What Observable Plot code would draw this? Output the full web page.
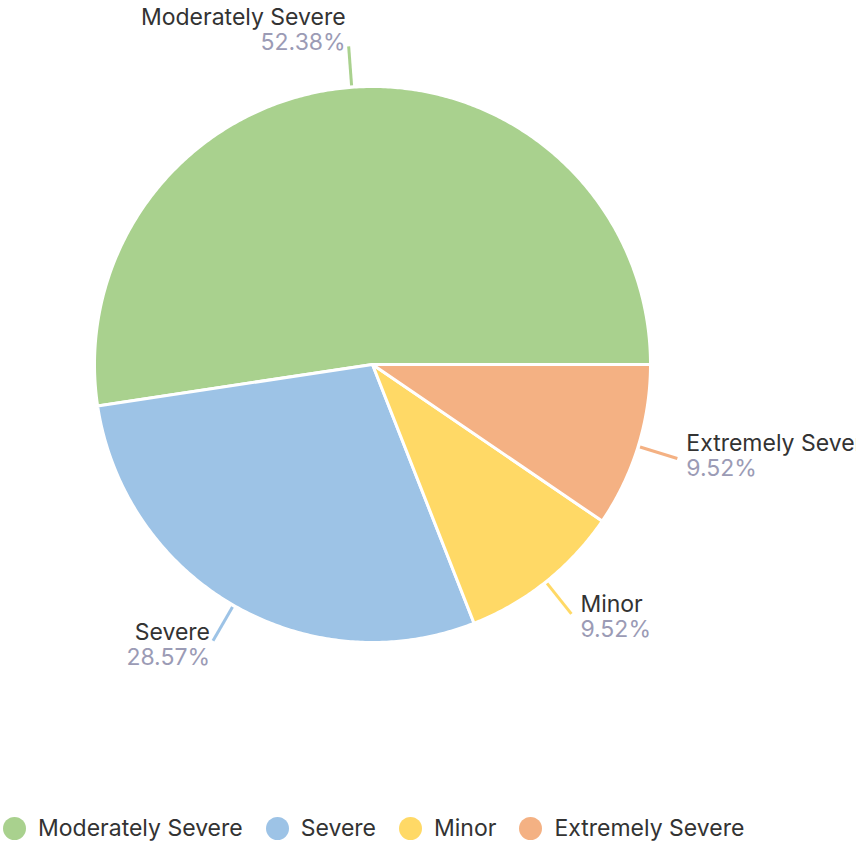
<!DOCTYPE html>
<html>
<head>
<meta charset="utf-8">
<script src="https://cdn.jsdelivr.net/npm/d3@7"></script>
<script src="https://cdn.jsdelivr.net/npm/@observablehq/plot@0.6"></script>
<style>
  html, body { margin: 0; padding: 0; background: #fff; overflow: hidden; }
  body { width: 856px; height: 846px; font-family: Inter, sans-serif; }
  #chart svg { display: block; overflow: hidden; }
  #legend { display: flex; align-items: center; height: 36px; margin-top: 20px; padding-left: 3px; font-size: 23px; color: #333; white-space: nowrap; }
  .item { display: flex; align-items: center; margin-right: 23px; }
  .sw { width: 23px; height: 23px; border-radius: 50%; margin-right: 12px; flex: none; }
</style>
</head>
<body>
<div id="chart"></div>
<div id="legend"></div>
<script>
const categories = ["Moderately Severe", "Severe", "Minor", "Extremely Severe"];
const counts = [11, 6, 2, 2];
const colors = ["#a9d18e", "#9dc3e6", "#ffd966", "#f4b183"];

const W = 856, H = 790, CX = 372, CY = 364, R = 278;
const total = d3.sum(counts);

// slices counter-clockwise from 3 o'clock
let acc = 0;
const slices = categories.map((c, i) => {
  const a0 = acc / total * 2 * Math.PI;
  acc += counts[i];
  const a1 = acc / total * 2 * Math.PI;
  return {cat: c, value: counts[i], pct: (counts[i] / total * 100).toFixed(2) + "%", a0, a1, mid: (a0 + a1) / 2};
});

const pts = [];
for (const s of slices) {
  pts.push({cat: s.cat, x: 0, y: 0});
  const n = Math.max(4, Math.ceil((s.a1 - s.a0) / (Math.PI / 360)));
  for (let k = 0; k <= n; k++) {
    const a = s.a0 + (s.a1 - s.a0) * k / n;
    pts.push({cat: s.cat, x: Math.cos(a), y: Math.sin(a)});
  }
}

const r1 = 280 / R, r2 = 319 / R;
const links = slices.map(s => ({
  cat: s.cat,
  x1: r1 * Math.cos(s.mid), y1: r1 * Math.sin(s.mid),
  x2: r2 * Math.cos(s.mid), y2: r2 * Math.sin(s.mid)
}));

const labels = slices.map(s => {
  const ex = r2 * Math.cos(s.mid), ey = r2 * Math.sin(s.mid);
  const down = -Math.sin(s.mid);
  const right = Math.cos(s.mid) >= 0;
  const nameOff = (-12 + 11 * down) - 6; // pixel offset of name center (down positive)
  return {
    cat: s.cat, pct: s.pct, right,
    x: ex + (right ? 9 : -3) / R,
    yName: ey - nameOff / R,
    yPct: ey - (nameOff + 25) / R
  };
});

const chart = Plot.plot({
  width: W, height: H,
  margin: 0,
  x: {domain: [-CX / R, (W - CX) / R], axis: null},
  y: {domain: [-(H - CY) / R, CY / R], axis: null},
  color: {domain: categories, range: colors},
  style: {fontFamily: "Inter, sans-serif", background: "#fff"},
  marks: [
    Plot.line(pts, {x: "x", y: "y", z: "cat", fill: "cat", stroke: "#fff", strokeWidth: 3, curve: "linear-closed"}),
    Plot.link(links, {x1: "x1", y1: "y1", x2: "x2", y2: "y2", stroke: "cat", strokeWidth: 3}),
    Plot.text(labels.filter(d => d.right), {x: "x", y: "yName", text: "cat", textAnchor: "start", fill: "#333", fontSize: 23}),
    Plot.text(labels.filter(d => d.right), {x: "x", y: "yPct", text: "pct", textAnchor: "start", fill: "#9b9bb5", fontSize: 23}),
    Plot.text(labels.filter(d => !d.right), {x: "x", y: "yName", text: "cat", textAnchor: "end", fill: "#333", fontSize: 23}),
    Plot.text(labels.filter(d => !d.right), {x: "x", y: "yPct", text: "pct", textAnchor: "end", fill: "#9b9bb5", fontSize: 23})
  ]
});
document.getElementById("chart").appendChild(chart);

const legend = document.getElementById("legend");
categories.forEach((c, i) => {
  const it = document.createElement("div");
  it.className = "item";
  const sw = document.createElement("div");
  sw.className = "sw";
  sw.style.background = colors[i];
  const t = document.createElement("span");
  t.textContent = c;
  it.appendChild(sw); it.appendChild(t);
  legend.appendChild(it);
});
</script>
</body>
</html>
